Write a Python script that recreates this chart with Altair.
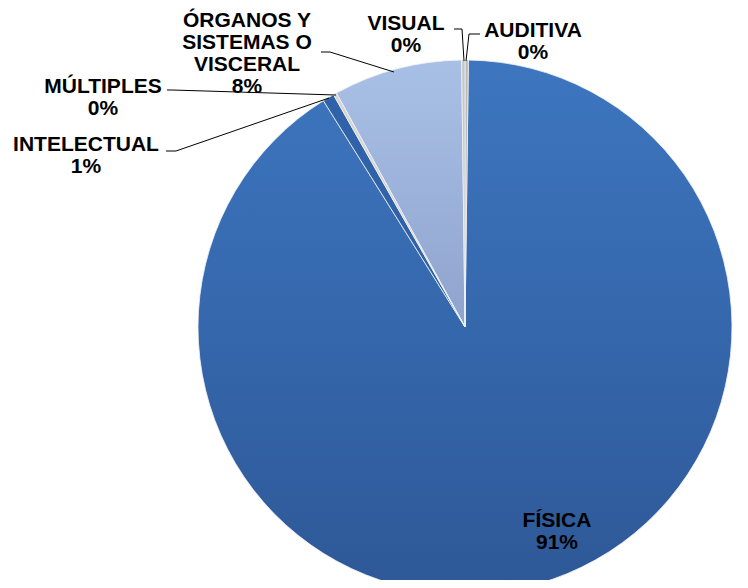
import altair as alt
import pandas as pd

# ---- data ----
categories = ["AUDITIVA", "FÍSICA", "INTELECTUAL", "MÚLTIPLES",
              "ÓRGANOS Y SISTEMAS O VISCERAL", "VISUAL"]
values = [0.2, 90.9, 0.7, 0.2, 7.8, 0.2]
label_names = ["AUDITIVA", "FÍSICA", "INTELECTUAL", "MÚLTIPLES",
               "ÓRGANOS Y\nSISTEMAS O\nVISCERAL", "VISUAL"]

# ---- style / layout ----
flat_colors = ["#B9B9B9", "#3A70B6", "#2F62A8", "#D4D4D4", "#9DB5DF", "#C6C6C6"]
label_x = [525, 549, 78, 95, 239, 398]
label_y = [29, 519, 143, 85, 19, 22]

# leader lines (view coordinates)
lead_id = [0, 0, 0, 1, 1, 1, 2, 2, 2, 3, 3, 3, 4, 4, 4]
lead_seq = [0, 1, 2] * 5
lead_x = [313, 322, 386, 159, 164, 328, 158, 168, 321, 446, 454, 456, 472, 461, 458]
lead_y = [44, 44, 64, 82, 82, 87, 143, 143, 90, 21, 21, 53, 26, 26, 53]

W, H = 732, 572
CX, CY, R = 457, 319, 267

df = pd.DataFrame({"category": categories, "value": values,
                   "order": list(range(len(categories)))})

base = (
    alt.Chart(df)
    .transform_window(cum="sum(value)", sort=[alt.SortField("order")], frame=[None, 0])
    .transform_joinaggregate(total="sum(value)")
    .transform_calculate(
        t0="(datum.cum - datum.value) / datum.total * 2 * PI",
        t1="datum.cum / datum.total * 2 * PI",
    )
    .encode(
        theta=alt.Theta("t0:Q", scale=None),
        theta2=alt.Theta2("t1:Q"),
        x=alt.value(CX),
        y=alt.value(CY),
    )
)

grad_fis = alt.Gradient(
    gradient="linear",
    stops=[alt.GradientStop(color="#3D76BF", offset=0),
           alt.GradientStop(color="#3567AC", offset=0.5),
           alt.GradientStop(color="#2E5897", offset=1)],
    x1=0, x2=0, y1=0, y2=1,
)
grad_org = alt.Gradient(
    gradient="linear",
    stops=[alt.GradientStop(color="#A9C0E6", offset=0),
           alt.GradientStop(color="#8EA4CE", offset=1)],
    x1=0, x2=0, y1=0, y2=1,
)

others = base.transform_filter(
    "datum.category != 'FÍSICA' && datum.category != 'ÓRGANOS Y SISTEMAS O VISCERAL'"
).mark_arc(radius=R, stroke="#F2F2F2", strokeWidth=0.8).encode(
    color=alt.Color("category:N", scale=alt.Scale(domain=categories, range=flat_colors),
                    legend=None)
)
fis = base.transform_filter("datum.category == 'FÍSICA'").mark_arc(
    radius=R, fill=grad_fis, stroke="#F2F2F2", strokeWidth=0.8)
org = base.transform_filter(
    "datum.category == 'ÓRGANOS Y SISTEMAS O VISCERAL'").mark_arc(
    radius=R, fill=grad_org, stroke="#F2F2F2", strokeWidth=0.8)

lab_df = pd.DataFrame({
    "text": [f"{n}\n{round(v)}%" for n, v in zip(label_names, values)],
    "lx": label_x, "ly": label_y,
})
labels = alt.Chart(lab_df).mark_text(
    font="Liberation Sans", fontWeight="bold", fontSize=21, lineBreak="\n",
    lineHeight=22, align="center", baseline="alphabetic", color="#000000",
).encode(
    x=alt.X("lx:Q", scale=None, axis=None),
    y=alt.Y("ly:Q", scale=None, axis=None),
    text="text:N",
)

lead_df = pd.DataFrame({"id": lead_id, "seq": lead_seq, "x": lead_x, "y": lead_y})
leaders = alt.Chart(lead_df).mark_line(color="#000000", strokeWidth=1).encode(
    x=alt.X("x:Q", scale=None, axis=None),
    y=alt.Y("y:Q", scale=None, axis=None),
    detail="id:N",
    order="seq:Q",
)

chart = (
    alt.layer(fis, org, others, leaders, labels)
    .properties(width=W, height=H, autosize="none", padding=0)
    .configure_view(stroke=None)
)

chart.save("out.html", embed_options={"renderer": "svg", "actions": False})
